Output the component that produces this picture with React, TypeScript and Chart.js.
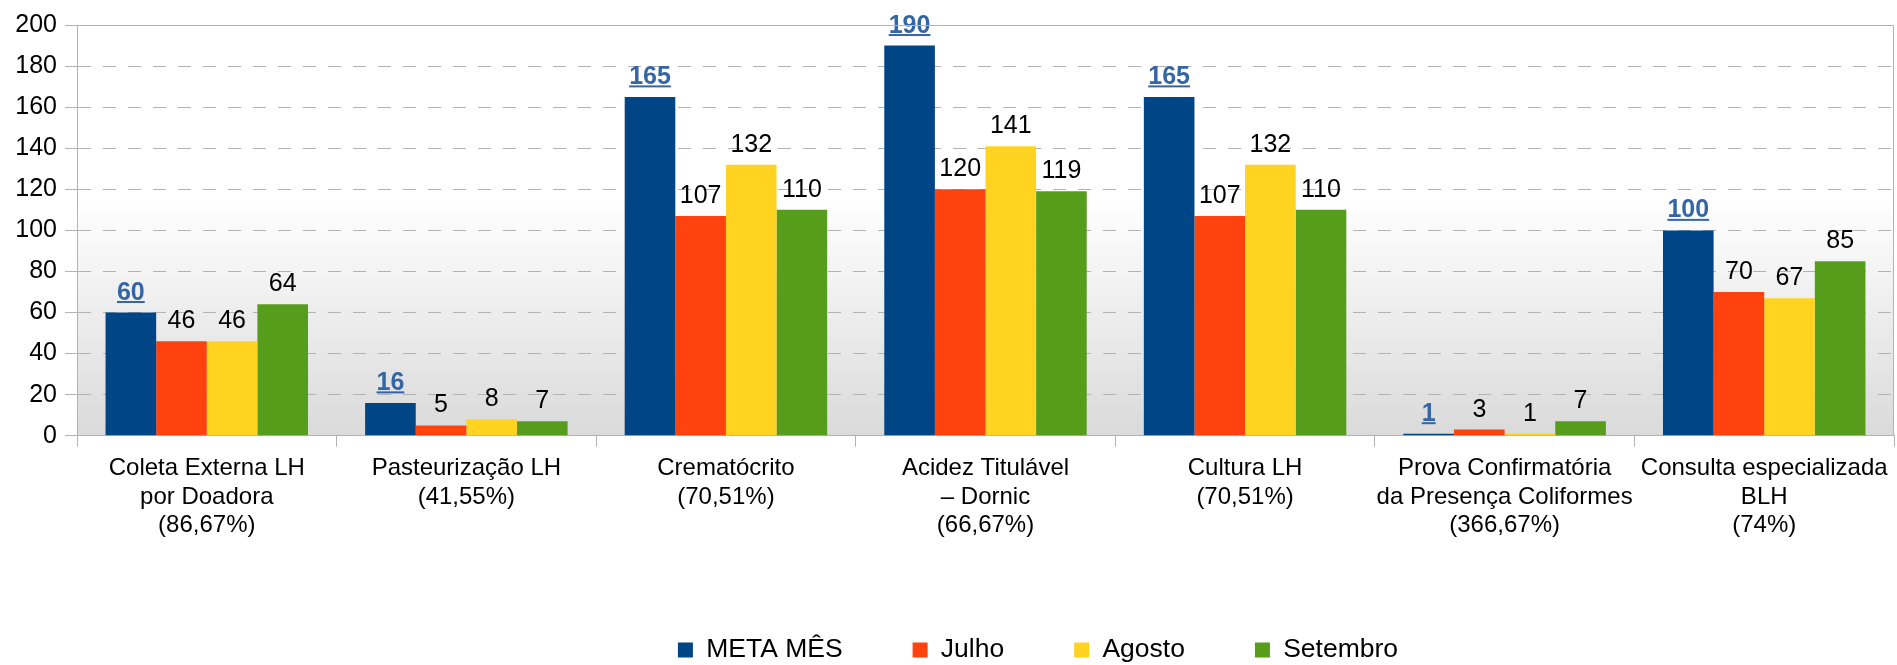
import React, { useEffect, useRef } from "react";
import { Chart, registerables } from "chart.js";

Chart.register(...registerables);

const categories: string[][] = [
  ["Coleta Externa LH", "por Doadora", "(86,67%)"],
  ["Pasteurização LH", "(41,55%)"],
  ["Crematócrito", "(70,51%)"],
  ["Acidez Titulável", "– Dornic", "(66,67%)"],
  ["Cultura LH", "(70,51%)"],
  ["Prova Confirmatória", "da Presença Coliformes", "(366,67%)"],
  ["Consulta especializada", "BLH", "(74%)"],
];

const seriesNames = ["META MÊS", "Julho", "Agosto", "Setembro"];
const metaMes = [60, 16, 165, 190, 165, 1, 100];
const julho = [46, 5, 107, 120, 107, 3, 70];
const agosto = [46, 8, 132, 141, 132, 1, 67];
const setembro = [64, 7, 110, 119, 110, 7, 85];
const seriesColors = ["#004586", "#ff420e", "#ffd320", "#579d1c"];

const yTicksMin = 0;
const yTicksMax = 200;
const yTicksStep = 20;

const FONT = "'Liberation Sans', Arial, sans-serif";
const GRID = "#b3b3b3";

const backgroundPlugin = {
  id: "plotBackground",
  beforeDatasetsDraw(chart: any) {
    const { ctx, chartArea } = chart;
    const { left, top, right, bottom } = chartArea;
    ctx.save();
    const g = ctx.createLinearGradient(0, top, 0, bottom);
    g.addColorStop(0, "#ffffff");
    g.addColorStop(0.42, "#ffffff");
    g.addColorStop(1, "#dadada");
    ctx.globalCompositeOperation = "destination-over";
    ctx.fillStyle = g;
    ctx.fillRect(left, top, right - left, bottom - top);
    ctx.restore();
  },
};

const framePlugin = {
  id: "plotFrame",
  afterDraw(chart: any) {
    const { ctx, chartArea } = chart;
    ctx.save();
    ctx.strokeStyle = GRID;
    ctx.lineWidth = 1;
    ctx.beginPath();
    ctx.moveTo(Math.round(chartArea.left) + 0.5, Math.round(chartArea.top) + 0.5);
    ctx.lineTo(Math.round(chartArea.right) - 0.5, Math.round(chartArea.top) + 0.5);
    ctx.lineTo(Math.round(chartArea.right) - 0.5, Math.round(chartArea.bottom));
    ctx.stroke();
    ctx.restore();
  },
};

const valueLabelPlugin = {
  id: "valueLabels",
  afterDatasetsDraw(chart: any) {
    const ctx = chart.ctx;
    chart.data.datasets.forEach((ds: any, di: number) => {
      const meta = chart.getDatasetMeta(di);
      meta.data.forEach((el: any, i: number) => {
        const text = String(ds.data[i]);
        const isMeta = di === 0;
        ctx.save();
        ctx.font = `${isMeta ? "bold " : ""}25px ${FONT}`;
        ctx.fillStyle = isMeta ? "#3465a4" : "#000000";
        ctx.textAlign = "center";
        ctx.textBaseline = "alphabetic";
        const y = el.y - 13;
        ctx.fillText(text, el.x, y);
        if (isMeta) {
          const w = ctx.measureText(text).width;
          ctx.fillRect(el.x - w / 2, y + 1.5, w, 2);
        }
        ctx.restore();
      });
    });
  },
};

const legendShiftPlugin = {
  id: "legendShift",
  afterLayout(chart: any) {
    const l = chart.legend;
    if (l) {
      l.left += 91;
      l.right += 91;
    }
  },
};

export default function App() {
  const canvasRef = useRef<HTMLCanvasElement | null>(null);

  useEffect(() => {
    if (!canvasRef.current) return;
    Chart.defaults.font.family = FONT;
    const values = [metaMes, julho, agosto, setembro];
    const chart = new Chart(canvasRef.current, {
      type: "bar",
      data: {
        labels: categories,
        datasets: values.map((d, i) => ({
          label: seriesNames[i],
          data: d,
          backgroundColor: seriesColors[i],
          borderWidth: 0,
          categoryPercentage: 0.78,
          barPercentage: 1,
        })),
      },
      options: {
        animation: false,
        responsive: false,
        devicePixelRatio: 1,
        layout: { padding: { top: 25, left: 0, right: 3, bottom: 1.75 } },
        plugins: {
          tooltip: { enabled: false },
          legend: {
            position: "bottom",
            maxHeight: 96.5,
            labels: {
              boxWidth: 15,
              boxHeight: 15,
              padding: 70,
              color: "#000000",
              font: { size: 26.5, family: FONT },
            },
          },
        },
        scales: {
          x: {
            grid: {
              display: true,
              drawOnChartArea: false,
              drawTicks: true,
              tickLength: 11,
              color: GRID,
              offset: true,
            },
            border: { display: true, color: GRID, width: 1 },
            ticks: {
              color: "#000000",
              font: { size: 24, family: FONT },
              padding: 7,
              maxRotation: 0,
              minRotation: 0,
              autoSkip: false,
            },
            afterFit(scale: any) {
              scale.height = 131;
            },
          },
          y: {
            min: yTicksMin,
            max: yTicksMax,
            ticks: {
              stepSize: yTicksStep,
              color: "#000000",
              font: { size: 25, family: FONT },
              padding: 8,
            },
            grid: {
              color: GRID,
              tickLength: 12,
              tickColor: GRID,
              tickBorderDash: [],
            },
            border: { display: true, color: GRID, width: 1, dash: [13, 12] },
            afterFit(scale: any) {
              scale.width = 77;
            },
          },
        },
      },
      plugins: [backgroundPlugin, valueLabelPlugin, framePlugin, legendShiftPlugin],
    } as any);
    return () => chart.destroy();
  }, []);

  return (
    <div style={{ position: "absolute", left: 0, top: 0, width: 1897, height: 665, background: "#ffffff" }}>
      <canvas ref={canvasRef} width={1897} height={665} style={{ display: "block" }} />
    </div>
  );
}
